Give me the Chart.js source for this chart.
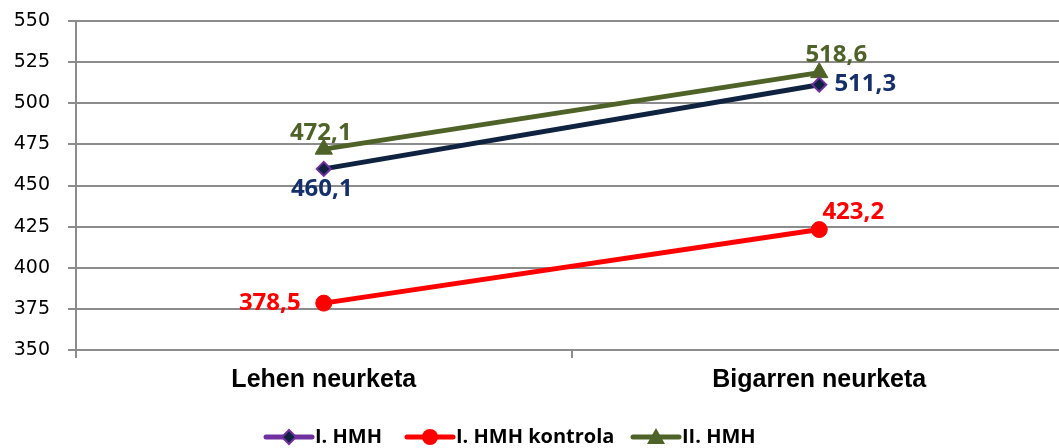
<!DOCTYPE html>
<html>
<head>
<meta charset="utf-8">
<script src="https://cdn.jsdelivr.net/npm/chart.js@4.4.1/dist/chart.umd.min.js"></script>
<style>
html,body{margin:0;padding:0;background:#fff;overflow:hidden;}
#wrap{width:1059px;height:448px;position:relative;overflow:hidden;}
</style>
</head>
<body>
<div id="wrap"><canvas id="c" width="1078" height="448" style="width:1078px;height:448px;"></canvas></div>
<script>
const categories = ["Lehen neurketa", "Bigarren neurketa"];
const seriesNames = ["I. HMH", "I. HMH kontrola", "II. HMH"];
const hmh1 = [460.1, 511.3];
const hmh1Kontrola = [378.5, 423.2];
const hmh2 = [472.1, 518.6];
const yTicks = [350, 375, 400, 425, 450, 475, 500, 525, 550];

const NAVY = '#0F2341', NAVY_LBL = '#142F6B', PURPLE = '#7030A0', RED = '#FF0000', GREEN = '#4F6228';
const GRID = '#8C8C8C';

// label placement offsets (dx, dy from point) per dataset/point
const labelOffsets = [
  [[-2, 20], [46, -1]],
  [[-54, 0], [34, -17]],
  [[-3, -16], [17, -17]]
];
const labelColors = [NAVY_LBL, RED, GREEN];

const fmt = v => v.toFixed(1).replace('.', ',');

const dataLabelPlugin = {
  id: 'dataLabels',
  afterDatasetsDraw(chart) {
    const ctx = chart.ctx;
    ctx.save();
    ctx.font = 'bold 24px "Open Sans"';
    ctx.textAlign = 'center';
    ctx.textBaseline = 'middle';
    chart.data.datasets.forEach((ds, i) => {
      const meta = chart.getDatasetMeta(i);
      meta.data.forEach((pt, j) => {
        const o = labelOffsets[i][j];
        ctx.fillStyle = labelColors[i];
        ctx.fillText(fmt(ds.data[j]), pt.x + o[0], pt.y + o[1]);
      });
    });
    ctx.restore();
  }
};

const legendPlugin = {
  id: 'customLegend',
  afterDraw(chart) {
    const ctx = chart.ctx;
    const y = 437;
    const items = [
      {x: 266, line: PURPLE, marker: 'diamond'},
      {x: 407, line: RED, marker: 'circle'},
      {x: 633, line: GREEN, marker: 'triangle'}
    ];
    ctx.save();
    items.forEach((it, i) => {
      ctx.strokeStyle = it.line;
      ctx.lineWidth = 5;
      ctx.lineCap = 'round';
      ctx.beginPath();
      ctx.moveTo(it.x, y);
      ctx.lineTo(it.x + 46, y);
      ctx.stroke();
      const cx = it.x + 23;
      ctx.beginPath();
      if (it.marker === 'diamond') {
        ctx.moveTo(cx, y - 7); ctx.lineTo(cx + 7, y); ctx.lineTo(cx, y + 7); ctx.lineTo(cx - 7, y); ctx.closePath();
        ctx.fillStyle = NAVY; ctx.fill();
        ctx.lineWidth = 2; ctx.strokeStyle = PURPLE; ctx.stroke();
      } else if (it.marker === 'circle') {
        ctx.arc(cx, y, 8, 0, Math.PI * 2);
        ctx.fillStyle = RED; ctx.fill();
      } else {
        ctx.moveTo(cx, y - 9); ctx.lineTo(cx + 9, y + 7); ctx.lineTo(cx - 9, y + 7); ctx.closePath();
        ctx.fillStyle = GREEN; ctx.fill();
      }
      ctx.font = 'bold 20px "Open Sans"';
      ctx.fillStyle = '#000';
      ctx.textAlign = 'left';
      ctx.textBaseline = 'middle';
      ctx.fillText(seriesNames[i], it.x + 49, y);
    });
    ctx.restore();
  }
};

new Chart(document.getElementById('c'), {
  type: 'line',
  data: {
    labels: categories,
    datasets: [
      {
        label: seriesNames[0], data: hmh1,
        borderColor: NAVY, borderWidth: 5,
        pointStyle: 'rectRot', pointRadius: 7, pointBackgroundColor: NAVY,
        pointBorderColor: PURPLE, pointBorderWidth: 2
      },
      {
        label: seriesNames[1], data: hmh1Kontrola,
        borderColor: RED, borderWidth: 5,
        pointStyle: 'circle', pointRadius: 8, pointBackgroundColor: RED,
        pointBorderColor: RED, pointBorderWidth: 1
      },
      {
        label: seriesNames[2], data: hmh2,
        borderColor: GREEN, borderWidth: 5,
        pointStyle: 'triangle', pointRadius: 10, pointBackgroundColor: GREEN,
        pointBorderColor: GREEN, pointBorderWidth: 1
      }
    ]
  },
  options: {
    responsive: false,
    animation: false,
    devicePixelRatio: 1,
    layout: { padding: { top: 21, left: 0, right: 0, bottom: 38 } },
    plugins: { legend: { display: false }, tooltip: { enabled: false }, title: { display: false } },
    scales: {
      x: {
        offset: true,
        grid: { offset: true, drawOnChartArea: false, color: GRID, lineWidth: 2, tickLength: 8 },
        border: { color: GRID, width: 2 },
        ticks: { color: '#000', font: { family: 'Liberation Sans', size: 25, weight: 'bold' }, padding: 7 },
        afterFit(s) { s.height = 60; s.paddingLeft = 0; s.paddingRight = 0; }
      },
      y: {
        min: 350, max: 550,
        afterBuildTicks(s) { s.ticks = yTicks.map(v => ({ value: v })); },
        grid: { color: GRID, lineWidth: 2, tickLength: 8 },
        border: { color: GRID, width: 2 },
        ticks: { color: '#000', font: { family: 'DejaVu Sans', size: 19 }, padding: 18 },
        afterFit(s) { s.width = 76; s.paddingTop = 0; s.paddingBottom = 0; }
      }
    }
  },
  plugins: [dataLabelPlugin, legendPlugin]
});
</script>
</body>
</html>
